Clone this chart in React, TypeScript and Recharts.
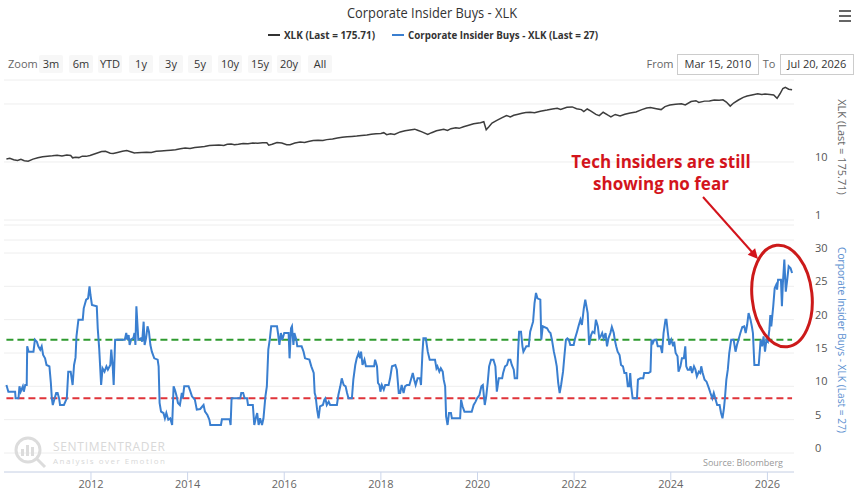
import { CartesianGrid, Line, LineChart, ReferenceLine, XAxis, YAxis } from "recharts";

// XLK price (decimal year, price)
const xlkPrices: [number, number][] = [
  [2010.25, 11.3], [2010.32, 11.6], [2010.4, 10.9], [2010.48, 10.6], [2010.55, 11.1], [2010.62, 10.5],
  [2010.7, 10.3], [2010.8, 11.2], [2010.9, 11.8], [2011.0, 12.3], [2011.1, 12.6], [2011.2, 12.8],
  [2011.3, 13.1], [2011.4, 12.7], [2011.5, 13.2], [2011.58, 12.9], [2011.62, 11.8], [2011.68, 12.1],
  [2011.75, 11.9], [2011.82, 12.6], [2011.9, 12.5], [2011.98, 12.9], [2012.1, 14.0], [2012.22, 15.2],
  [2012.3, 15.3], [2012.4, 14.2], [2012.46, 14.0], [2012.55, 14.6], [2012.65, 15.3], [2012.74, 15.7],
  [2012.82, 15.0], [2012.9, 14.3], [2012.96, 14.5], [2013.05, 14.6], [2013.15, 14.7], [2013.25, 14.6],
  [2013.35, 15.3], [2013.45, 15.5], [2013.57, 15.8], [2013.65, 16.0], [2013.75, 16.3], [2013.85, 16.9],
  [2013.95, 17.4], [2014.05, 17.1], [2014.15, 17.7], [2014.26, 18.2], [2014.35, 18.5], [2014.45, 19.2],
  [2014.55, 19.4], [2014.65, 19.6], [2014.75, 19.3], [2014.82, 20.2], [2014.9, 20.4], [2014.97, 19.8],
  [2015.05, 20.2], [2015.15, 20.9], [2015.25, 20.7], [2015.35, 21.2], [2015.45, 21.0], [2015.55, 21.4],
  [2015.64, 21.5], [2015.68, 19.5], [2015.75, 20.2], [2015.85, 21.6], [2015.95, 21.2], [2016.05, 19.8],
  [2016.12, 19.9], [2016.22, 21.2], [2016.33, 22.0], [2016.42, 21.7], [2016.5, 22.6], [2016.6, 23.5],
  [2016.7, 23.6], [2016.8, 23.4], [2016.88, 24.3], [2017.0, 25.0], [2017.1, 26.0], [2017.2, 26.8],
  [2017.3, 27.2], [2017.4, 27.6], [2017.5, 28.0], [2017.6, 28.6], [2017.71, 29.3], [2017.8, 30.2],
  [2017.9, 30.6], [2018.0, 31.0], [2018.06, 32.0], [2018.12, 29.6], [2018.2, 30.6], [2018.28, 29.8],
  [2018.4, 33.0], [2018.5, 34.5], [2018.6, 35.6], [2018.7, 36.8], [2018.76, 35.2], [2018.85, 33.0],
  [2018.97, 29.8], [2019.05, 32.0], [2019.15, 34.5], [2019.3, 36.6], [2019.38, 35.0], [2019.45, 37.5],
  [2019.55, 38.8], [2019.62, 38.0], [2019.71, 40.5], [2019.8, 42.5], [2019.92, 45.5], [2020.06, 47.6],
  [2020.13, 49.5], [2020.18, 36.0], [2020.24, 41.0], [2020.3, 47.0], [2020.4, 52.0], [2020.5, 57.5],
  [2020.6, 63.0], [2020.68, 60.0], [2020.75, 64.0], [2020.82, 66.0], [2020.92, 69.0], [2021.0, 71.0],
  [2021.09, 72.0], [2021.18, 70.5], [2021.3, 75.0], [2021.44, 78.5], [2021.55, 82.0], [2021.65, 84.0],
  [2021.72, 80.5], [2021.85, 88.0], [2021.96, 89.0], [2022.05, 83.0], [2022.15, 80.0], [2022.2, 74.0],
  [2022.27, 82.0], [2022.34, 76.0], [2022.45, 66.0], [2022.52, 63.0], [2022.6, 72.0], [2022.7, 64.0],
  [2022.76, 60.0], [2022.85, 66.0], [2022.95, 62.0], [2023.05, 66.5], [2023.16, 70.0], [2023.28, 73.0],
  [2023.4, 80.0], [2023.5, 85.0], [2023.58, 87.0], [2023.7, 83.0], [2023.8, 80.0], [2023.88, 90.0],
  [2023.98, 96.0], [2024.1, 99.0], [2024.22, 101.0], [2024.3, 96.0], [2024.42, 110.0], [2024.52, 114.0],
  [2024.58, 106.0], [2024.7, 112.0], [2024.8, 113.0], [2024.9, 117.0], [2025.0, 116.0], [2025.08, 118.0],
  [2025.15, 108.0], [2025.23, 92.0], [2025.3, 104.0], [2025.4, 117.0], [2025.5, 130.0], [2025.58, 137.0],
  [2025.68, 143.0], [2025.8, 150.0], [2025.88, 146.0], [2025.95, 148.0], [2026.05, 145.0], [2026.13, 143.0],
  [2026.2, 125.0], [2026.26, 150.0], [2026.32, 185.0], [2026.37, 194.0], [2026.44, 180.0], [2026.51, 175.71],
];

// Corporate insider buys - XLK (decimal year, value)
const insider2010to2013: [number, number][] = [
  [2010.25, 10.2], [2010.29, 9.2], [2010.43, 9.2], [2010.44, 8.2], [2010.5, 8.2], [2010.52, 10.0],
  [2010.545, 9.2], [2010.59, 10.0], [2010.61, 9.2], [2010.64, 10.2], [2010.67, 10.2], [2010.68, 16.0],
  [2010.71, 15.2], [2010.81, 15.2], [2010.84, 17.0], [2010.88, 16.7], [2010.91, 16.0], [2010.95, 15.5],
  [2010.98, 16.0], [2011.01, 14.7], [2011.05, 14.2], [2011.08, 13.2], [2011.14, 13.0], [2011.17, 10.5],
  [2011.19, 8.2], [2011.21, 7.2], [2011.24, 8.0], [2011.28, 9.0], [2011.31, 9.0], [2011.34, 8.2],
  [2011.36, 7.2], [2011.44, 7.2], [2011.47, 7.7], [2011.5, 8.2], [2011.53, 12.2], [2011.58, 12.2],
  [2011.62, 10.2], [2011.65, 13.2], [2011.68, 14.3], [2011.7, 17.5], [2011.74, 20.0], [2011.83, 20.0],
  [2011.85, 21.7], [2011.9, 23.0], [2011.94, 23.2], [2011.97, 25.0], [2011.99, 23.7], [2012.02, 22.2],
  [2012.12, 22.0], [2012.14, 18.7], [2012.17, 15.7], [2012.21, 10.2], [2012.24, 12.7], [2012.28, 12.2],
  [2012.32, 13.0], [2012.35, 12.5], [2012.4, 13.2], [2012.42, 15.5], [2012.45, 13.0], [2012.47, 10.2],
  [2012.5, 17.0], [2012.7, 17.0], [2012.73, 18.0], [2012.75, 17.0], [2012.78, 17.7], [2012.8, 16.2],
  [2012.83, 17.0], [2012.88, 17.3], [2012.9, 18.0], [2012.92, 16.2], [2012.94, 22.0], [2012.96, 19.5],
  [2012.98, 17.0], [2013.03, 17.2], [2013.06, 16.7], [2013.09, 19.7], [2013.11, 16.2], [2013.14, 17.2],
  [2013.17, 19.0], [2013.2, 18.2], [2013.23, 16.2], [2013.26, 15.2], [2013.31, 14.2], [2013.38, 14.0],
  [2013.4, 13.0], [2013.42, 7.5], [2013.45, 6.2], [2013.5, 6.0], [2013.53, 5.2], [2013.56, 6.0],
  [2013.6, 5.0], [2013.64, 5.2], [2013.68, 4.2], [2013.71, 10.0], [2013.74, 9.4], [2013.77, 8.6],
  [2013.8, 7.5], [2013.84, 7.2], [2013.88, 9.0], [2013.9, 8.2], [2013.93, 10.0],
];

const insider2014to2017: [number, number][] = [
  [2014.02, 10.0], [2014.05, 9.4], [2014.09, 8.5], [2014.15, 8.0], [2014.19, 6.5], [2014.26, 6.6],
  [2014.33, 7.2], [2014.36, 6.2], [2014.41, 5.7], [2014.45, 5.0], [2014.47, 4.2], [2014.69, 4.2],
  [2014.71, 5.05], [2014.87, 5.05], [2014.89, 4.2], [2014.91, 8.2], [2015.09, 8.2], [2015.11, 9.0],
  [2015.15, 9.0], [2015.18, 8.2], [2015.23, 8.2], [2015.25, 7.2], [2015.35, 7.2], [2015.38, 4.2],
  [2015.41, 5.2], [2015.44, 6.0], [2015.47, 4.2], [2015.5, 5.2], [2015.54, 4.2], [2015.57, 5.2],
  [2015.61, 8.5], [2015.64, 10.0], [2015.67, 15.5], [2015.7, 17.0], [2015.73, 19.0], [2015.85, 19.0],
  [2015.87, 18.0], [2015.9, 16.2], [2015.93, 18.0], [2015.96, 17.0], [2016.0, 18.0], [2016.09, 18.0],
  [2016.11, 14.2], [2016.14, 18.7], [2016.16, 19.0], [2016.19, 16.2], [2016.21, 18.0], [2016.25, 17.0],
  [2016.27, 16.0], [2016.36, 16.0], [2016.4, 15.2], [2016.43, 14.2], [2016.52, 14.0], [2016.56, 13.0],
  [2016.61, 12.0], [2016.63, 9.0], [2016.65, 8.5], [2016.68, 6.5], [2016.71, 5.2], [2016.74, 7.0],
  [2016.8, 7.2], [2016.83, 8.0], [2016.85, 8.2], [2016.88, 7.2], [2016.92, 7.7], [2016.95, 7.2],
  [2017.09, 7.2], [2017.12, 8.7], [2017.16, 10.0], [2017.19, 11.2], [2017.23, 10.2], [2017.27, 10.0],
  [2017.3, 9.0], [2017.33, 8.2], [2017.4, 8.2], [2017.43, 11.0], [2017.47, 13.2], [2017.5, 14.2],
  [2017.54, 15.0], [2017.57, 14.2], [2017.59, 15.2], [2017.62, 13.2], [2017.66, 14.0], [2017.69, 13.0],
  [2017.86, 13.0], [2017.88, 14.0], [2017.92, 13.0], [2017.94, 10.5], [2017.97, 10.2], [2017.99, 9.2],
];

const insider2018to2021: [number, number][] = [
  [2018.02, 10.2], [2018.06, 9.5], [2018.09, 10.2], [2018.16, 10.2], [2018.19, 11.2], [2018.23, 13.0],
  [2018.3, 13.2], [2018.33, 12.5], [2018.37, 9.0], [2018.4, 9.0], [2018.43, 10.2], [2018.47, 9.0],
  [2018.5, 10.0], [2018.54, 10.2], [2018.59, 10.2], [2018.63, 11.2], [2018.66, 12.0], [2018.69, 11.0],
  [2018.72, 10.2], [2018.76, 11.2], [2018.81, 11.2], [2018.83, 10.2], [2018.86, 15.0], [2018.88, 17.2],
  [2018.93, 17.2], [2018.97, 15.2], [2019.01, 14.0], [2019.12, 14.0], [2019.15, 12.7], [2019.17, 13.0],
  [2019.21, 12.2], [2019.24, 12.7], [2019.28, 12.2], [2019.3, 11.0], [2019.33, 10.0], [2019.35, 5.5],
  [2019.38, 4.2], [2019.41, 6.0], [2019.45, 6.0], [2019.47, 5.2], [2019.64, 5.2], [2019.66, 8.0],
  [2019.69, 7.0], [2019.73, 6.2], [2019.88, 6.2], [2019.92, 7.2], [2019.96, 7.7], [2019.99, 8.2],
  [2020.04, 8.7], [2020.08, 10.0], [2020.11, 10.2], [2020.15, 7.2], [2020.18, 8.5], [2020.21, 10.5],
  [2020.24, 13.0], [2020.28, 14.0], [2020.33, 14.0], [2020.37, 13.0], [2020.4, 9.2], [2020.44, 11.2],
  [2020.51, 11.2], [2020.53, 12.0], [2020.57, 13.0], [2020.61, 13.2], [2020.64, 14.0], [2020.68, 14.0],
  [2020.71, 13.2], [2020.75, 12.5], [2020.77, 11.2], [2020.82, 11.2], [2020.84, 15.2], [2020.86, 18.2],
  [2020.9, 18.2], [2020.93, 16.0], [2020.95, 15.2], [2021.01, 16.0], [2021.06, 16.0], [2021.09, 18.2],
  [2021.15, 19.7], [2021.18, 22.5], [2021.21, 24.0], [2021.24, 23.2], [2021.3, 23.0], [2021.32, 17.0],
  [2021.35, 19.0], [2021.44, 18.7], [2021.48, 18.2], [2021.51, 18.0], [2021.54, 17.0], [2021.58, 15.2],
  [2021.61, 14.2], [2021.64, 13.0], [2021.67, 10.5], [2021.7, 9.0], [2021.73, 10.2], [2021.77, 12.2],
  [2021.8, 14.7], [2021.83, 17.0], [2021.86, 17.2], [2021.89, 17.0], [2021.92, 16.2], [2021.99, 16.2],
];

const insider2022to2026: [number, number][] = [
  [2022.02, 17.2], [2022.06, 18.2], [2022.09, 19.0], [2022.13, 20.0], [2022.16, 19.2], [2022.2, 21.7],
  [2022.23, 23.0], [2022.25, 22.2], [2022.28, 21.0], [2022.31, 16.2], [2022.35, 17.7], [2022.38, 18.2],
  [2022.42, 18.0], [2022.45, 20.0], [2022.49, 19.0], [2022.52, 17.2], [2022.55, 17.5], [2022.58, 18.0],
  [2022.61, 17.2], [2022.65, 18.0], [2022.68, 16.0], [2022.71, 17.2], [2022.75, 18.0], [2022.78, 18.9],
  [2022.82, 18.0], [2022.84, 17.0], [2022.87, 16.0], [2022.9, 15.2], [2022.94, 14.7], [2022.97, 13.2],
  [2023.01, 13.0], [2023.04, 12.0], [2023.08, 12.0], [2023.11, 10.0], [2023.14, 10.0], [2023.16, 12.0],
  [2023.18, 10.0], [2023.21, 8.2], [2023.3, 8.2], [2023.32, 11.0], [2023.37, 11.2], [2023.43, 11.2],
  [2023.45, 12.0], [2023.54, 12.0], [2023.58, 12.2], [2023.6, 17.0], [2023.63, 16.5], [2023.66, 17.0],
  [2023.7, 17.0], [2023.73, 16.0], [2023.79, 16.0], [2023.82, 15.0], [2023.85, 18.0], [2023.89, 20.0],
  [2023.91, 20.0], [2023.94, 18.0], [2023.97, 16.2], [2024.01, 17.0], [2024.05, 16.0], [2024.07, 16.7],
  [2024.1, 15.0], [2024.14, 14.5], [2024.16, 12.2], [2024.2, 13.0], [2024.23, 14.2], [2024.27, 14.2],
  [2024.3, 16.0], [2024.32, 13.0], [2024.35, 12.5], [2024.39, 12.5], [2024.41, 13.0], [2024.44, 12.0],
  [2024.48, 13.0], [2024.51, 12.5], [2024.54, 11.5], [2024.58, 12.2], [2024.61, 12.0], [2024.63, 13.0],
  [2024.66, 12.0], [2024.7, 11.0], [2024.74, 10.7], [2024.79, 9.7], [2024.82, 9.0], [2024.86, 8.2],
  [2024.89, 9.0], [2024.92, 8.2], [2024.96, 7.2], [2025.01, 7.2], [2025.04, 6.0], [2025.07, 5.2],
  [2025.1, 6.7], [2025.12, 8.2], [2025.15, 11.0], [2025.18, 12.5], [2025.21, 15.0], [2025.25, 17.0],
  [2025.3, 17.0], [2025.34, 15.2], [2025.37, 16.2], [2025.41, 17.2], [2025.44, 18.0], [2025.48, 18.9],
  [2025.52, 19.0], [2025.55, 18.0], [2025.58, 19.2], [2025.61, 21.0], [2025.65, 20.0], [2025.68, 18.9],
  [2025.7, 18.0], [2025.73, 13.2], [2025.82, 13.2], [2025.86, 17.0], [2025.89, 16.0], [2025.92, 17.5],
  [2025.95, 15.2], [2025.98, 17.0], [2026.01, 16.7], [2026.04, 18.5], [2026.06, 20.7], [2026.08, 19.0],
  [2026.12, 22.0], [2026.15, 24.7], [2026.18, 25.2], [2026.2, 24.5], [2026.22, 26.0], [2026.28, 26.0],
  [2026.3, 22.0], [2026.32, 25.5], [2026.35, 29.0], [2026.38, 24.2], [2026.41, 26.0], [2026.44, 28.0],
  [2026.48, 27.7], [2026.51, 27.0],
];

const yearTicks = [2012, 2014, 2016, 2018, 2020, 2022, 2024, 2026];
const xlkTicks = [1, 10, 100];
const insiderTicks = [0, 5, 10, 15, 20, 25, 30];
const highLevel = 17;
const lowLevel = 8.2;
const zoomButtons = ["3m", "6m", "YTD", "1y", "3y", "5y", "10y", "15y", "20y", "All"];
const zoomButtonCenters = [51, 81, 110, 141, 171, 200, 230, 260, 289, 320];

const X_DOMAIN: [number, number] = [2010.2, 2026.55];
const FONT = "'Open Sans', Arial, sans-serif";
const BLUE = "#3a7fd0";
const GRID = "#eeeeee";

const xlkData = xlkPrices.map(([t, v]) => ({ t, v }));
const insiderData = [...insider2010to2013, ...insider2014to2017, ...insider2018to2021, ...insider2022to2026].map(
  ([t, v]) => ({ t, v })
);
const firstT = insiderData[0].t;
const lastT = insiderData[insiderData.length - 1].t;

const RightTick = (props: any) => {
  const { x, y, payload } = props;
  if (payload.value === 100) return <g />;
  return (
    <text x={x} y={y - 5} dy="0.35em" textAnchor="start" fontSize={11} fill="#555" fontFamily={FONT}>
      {payload.value}
    </text>
  );
};

const YearTick = (props: any) => {
  const { x, y, payload } = props;
  return (
    <text x={x} y={y + 6} textAnchor="middle" fontSize={11} fill="#666" fontFamily={FONT}>
      {payload.value}
    </text>
  );
};

function Overlay() {
  return (
    <svg width={860} height={494} style={{ position: "absolute", left: 0, top: 0, pointerEvents: "none" }} fontFamily={FONT}>
      <text x={432} y={18} textAnchor="middle" fontSize={14} fill="#333" textLength={170} lengthAdjust="spacingAndGlyphs">
        Corporate Insider Buys - XLK
      </text>
      <g stroke="#666" strokeWidth={2}>
        <line x1={839} y1={11} x2={851} y2={11} />
        <line x1={839} y1={16} x2={851} y2={16} />
        <line x1={839} y1={21} x2={851} y2={21} />
      </g>

      <line x1={268} y1={35} x2={280} y2={35} stroke="#333" strokeWidth={2} />
      <text x={284} y={39} fontSize={11} fontWeight={700} fill="#333" textLength={91} lengthAdjust="spacingAndGlyphs">
        XLK (Last = 175.71)
      </text>
      <line x1={392} y1={35} x2={404} y2={35} stroke={BLUE} strokeWidth={2} />
      <text x={408} y={39} fontSize={11} fontWeight={700} fill="#333" textLength={190} lengthAdjust="spacingAndGlyphs">
        Corporate Insider Buys - XLK (Last = 27)
      </text>

      <text x={8} y={68} fontSize={11} fill="#666">Zoom</text>
      {zoomButtons.map((b, i) => (
        <g key={b}>
          <rect x={zoomButtonCenters[i] - 12} y={55} width={24} height={18} rx={2} fill="#f7f7f7" />
          <text x={zoomButtonCenters[i]} y={68} textAnchor="middle" fontSize={11} fill="#333">{b}</text>
        </g>
      ))}
      <text x={660} y={68} textAnchor="middle" fontSize={11} fill="#666">From</text>
      <rect x={677.5} y={54.5} width={81} height={20} fill="#fff" stroke="#ccc" />
      <text x={718} y={68} textAnchor="middle" fontSize={11} fill="#333">Mar 15, 2010</text>
      <text x={769} y={68} textAnchor="middle" fontSize={11} fill="#666">To</text>
      <rect x={780.5} y={54.5} width={73} height={20} fill="#fff" stroke="#ccc" />
      <text x={817} y={68} textAnchor="middle" fontSize={11} fill="#333">Jul 20, 2026</text>

      <text transform="translate(842,147) rotate(90)" textAnchor="middle" dy="0.35em" fontSize={11} fill="#666">
        XLK (Last = 175.71)
      </text>
      <text
        transform="translate(842,340) rotate(90)"
        textAnchor="middle"
        dy="0.35em"
        fontSize={11}
        fill="#5b8fd0"
        textLength={186}
        lengthAdjust="spacingAndGlyphs"
      >
        Corporate Insider Buys - XLK (Last = 27)
      </text>

      <text x={661} y={168} textAnchor="middle" fontSize={17} fontWeight={700} fill="#d3141c">Tech insiders are still</text>
      <text x={661} y={190} textAnchor="middle" fontSize={17} fontWeight={700} fill="#d3141c">showing no fear</text>
      <line x1={703} y1={197} x2={752} y2={252} stroke="#d3141c" strokeWidth={2} />
      <polygon points="758,259 747.7,254.8 755.1,248.2" fill="#d3141c" />
      <ellipse cx={782} cy={296} rx={30} ry={51} transform="rotate(-6 782 296)" fill="none" stroke="#cc1a1a" strokeWidth={3} />

      <g stroke="#dcdcdc" fill="none" strokeWidth={3}>
        <circle cx={28} cy={450} r={12} />
        <line x1={37} y1={459} x2={45} y2={467} />
      </g>
      <g fill="#dcdcdc">
        <rect x={21} y={449} width={3} height={7} />
        <rect x={26} y={445} width={3} height={11} />
        <rect x={31} y={447} width={3} height={9} />
      </g>
      <text x={53} y={451} fontSize={12} fill="#d8d8d8" textLength={112}>SENTIMENTRADER</text>
      <text x={53} y={464} fontSize={8} fill="#d8d8d8" textLength={112}>Analysis over Emotion</text>
      <text x={783} y={466} textAnchor="end" fontSize={9} fill="#999">Source: Bloomberg</text>
    </svg>
  );
}

export default function App() {
  return (
    <div style={{ position: "absolute", left: 0, top: 0, width: 860, height: 494, background: "#fff", overflow: "hidden" }}>
      <div style={{ position: "absolute", left: 0, top: 0 }}>
        <LineChart width={860} height={232} data={xlkData} margin={{ top: 80, right: 6, bottom: 7, left: 4 }}>
          <CartesianGrid vertical={false} stroke={GRID} />
          <XAxis type="number" dataKey="t" domain={X_DOMAIN} hide allowDataOverflow />
          <YAxis
            orientation="right"
            type="number"
            scale="log"
            domain={[0.82, 259]}
            ticks={xlkTicks}
            width={60}
            tickSize={0}
            tickMargin={21}
            axisLine={false}
            tick={<RightTick />}
            allowDataOverflow
          />
          <Line type="linear" dataKey="v" stroke="#3d3d3d" strokeWidth={1.5} dot={false} isAnimationActive={false} />
        </LineChart>
      </div>
      <div style={{ position: "absolute", left: 0, top: 232 }}>
        <LineChart width={860} height={262} data={insiderData} margin={{ top: 8, right: 6, bottom: 0, left: 4 }}>
          <CartesianGrid vertical={false} stroke={GRID} />
          <XAxis
            type="number"
            dataKey="t"
            domain={X_DOMAIN}
            ticks={yearTicks}
            height={22}
            tickSize={8}
            stroke="#ccd6eb"
            tick={<YearTick />}
            allowDataOverflow
          />
          <YAxis
            orientation="right"
            type="number"
            domain={[-2.85, 31.95]}
            ticks={insiderTicks}
            width={60}
            tickSize={0}
            tickMargin={21}
            axisLine={false}
            tick={<RightTick />}
            allowDataOverflow
          />
          <ReferenceLine
            segment={[{ x: firstT, y: highLevel }, { x: lastT, y: highLevel }]}
            stroke="#2f9a2f"
            strokeWidth={2}
            strokeDasharray="7 4"
          />
          <ReferenceLine
            segment={[{ x: firstT, y: lowLevel }, { x: lastT, y: lowLevel }]}
            stroke="#e0343a"
            strokeWidth={2}
            strokeDasharray="7 4"
          />
          <Line type="linear" dataKey="v" stroke={BLUE} strokeWidth={2} dot={false} isAnimationActive={false} />
        </LineChart>
      </div>
      <Overlay />
    </div>
  );
}
